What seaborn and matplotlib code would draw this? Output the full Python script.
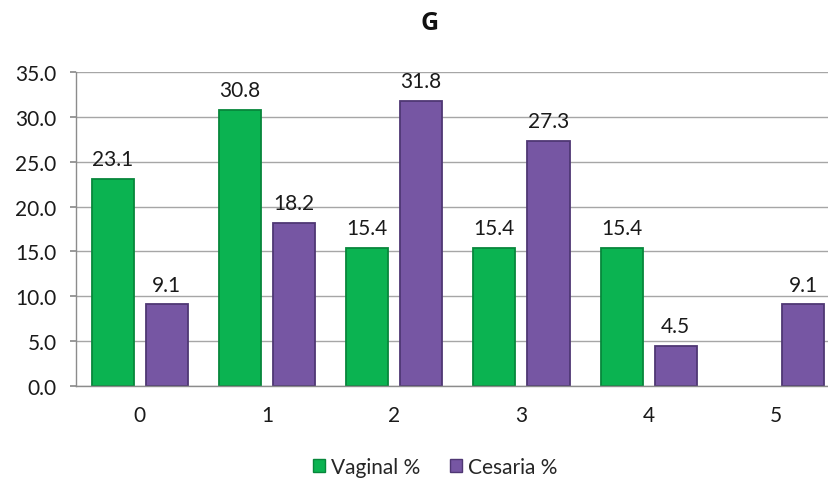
import numpy as np
import pandas as pd
import seaborn as sns
import matplotlib.pyplot as plt
from matplotlib.patches import Patch

categories = ['0', '1', '2', '3', '4', '5']
vaginal = [23.1, 30.8, 15.4, 15.4, 15.4, np.nan]
cesaria = [9.1, 18.2, 31.8, 27.3, 4.5, 9.1]
series_names = ['Vaginal %', 'Cesaria %']

df = pd.DataFrame({
    'cat': categories * 2,
    'value': vaginal + cesaria,
    'serie': [series_names[0]] * 6 + [series_names[1]] * 6,
})

sns.set_theme(style='white')
plt.rcParams['font.family'] = ['Lato', 'DejaVu Sans']

green = '#0bb351'
purple = '#7656a3'
edge_colors = ['#07873b', '#4f3774']
txt = '#1a1a1a'

fig = plt.figure(figsize=(8.29, 4.81), dpi=100)
# plot area runs a bit past the right edge, as in the reference
ax = fig.add_axes([0.0917, 0.1954, 0.921, 0.6528])

sns.barplot(data=df, x='cat', y='value', hue='serie', palette=[green, purple],
            width=0.85, gap=0.22, ax=ax, legend=False, saturation=1)

# darker outline per series, labels above bars (skip the missing bar)
for cont, ec in zip(ax.containers, edge_colors):
    for p in cont:
        if p is None:
            continue
        p.set_edgecolor(ec)
        p.set_linewidth(1.3)
        h = p.get_height()
        if np.isnan(h):
            continue
        ax.annotate(f'{h:.1f}', (p.get_x() + p.get_width() / 2, h),
                    xytext=(0, 7), textcoords='offset points',
                    ha='center', va='bottom', fontsize=15, color=txt)

ax.set_ylim(0, 35)
ax.set_yticks(np.arange(0, 35.1, 5))
ax.set_yticklabels([f'{v:.1f}' for v in np.arange(0, 35.1, 5)])
ax.set_xlim(-0.5, 5.5)
ax.set_xlabel('')
ax.set_ylabel('')
ax.yaxis.grid(True, color='#a6a6a6', linewidth=1)
ax.set_axisbelow(True)
for s in ['top', 'right']:
    ax.spines[s].set_visible(False)
for s in ['left', 'bottom']:
    ax.spines[s].set_color('#8c8c8c')
    ax.spines[s].set_linewidth(1)
ax.tick_params(axis='y', labelsize=15, labelcolor=txt, length=4, color='#8c8c8c', left=True, pad=10)
ax.tick_params(axis='x', labelsize=15, labelcolor=txt, length=0, pad=14)

fig.suptitle('G', x=0.518, y=0.978, fontsize=18, fontweight='bold', color='#111111',
             family=['Open Sans', 'DejaVu Sans'])

handles = [Patch(facecolor=green, edgecolor=edge_colors[0]),
           Patch(facecolor=purple, edgecolor=edge_colors[1])]
fig.legend(handles, series_names, loc='center', bbox_to_anchor=(0.525, 0.028),
           ncol=2, frameon=False, fontsize=15, handlelength=0.6, handleheight=0.6,
           handletextpad=0.3, columnspacing=1.4, borderpad=0)

fig.savefig('out.png', dpi=100)
